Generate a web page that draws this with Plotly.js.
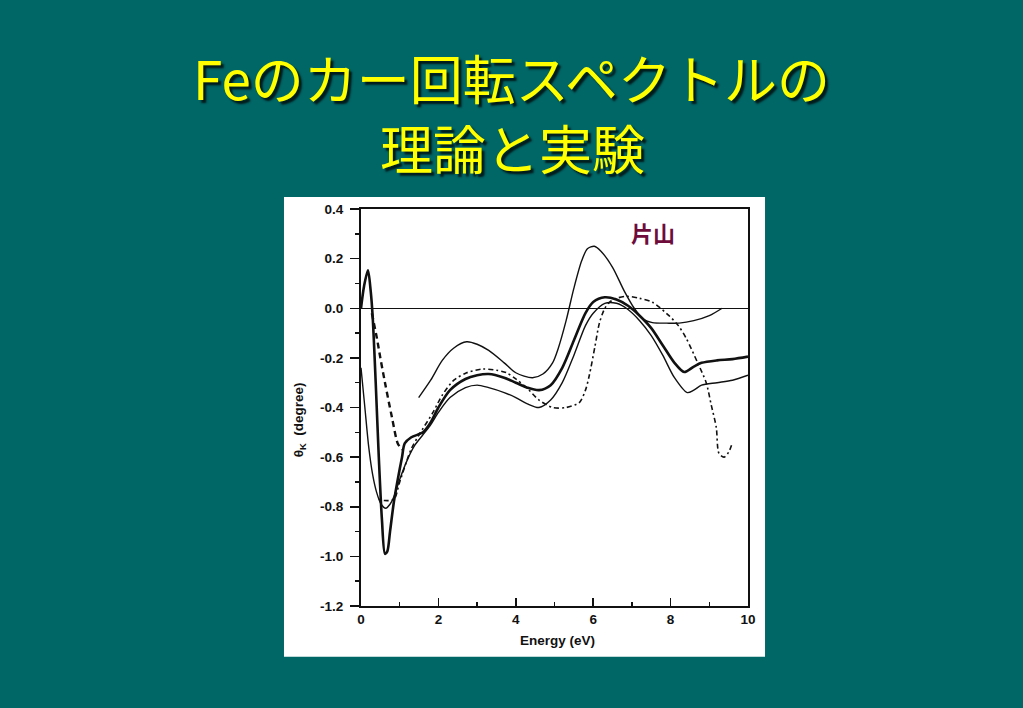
<!DOCTYPE html>
<html><head><meta charset="utf-8">
<script src="https://cdn.plot.ly/plotly-3.0.1.min.js"></script>
<style>html,body{margin:0;padding:0;background:#006666;}#chart{width:1023px;height:708px;}</style>
</head><body><div id="chart"></div>
<script>
// Thin solid curve (upper)
const energyA = [1.49,1.8,2.1,2.4,2.73,3.0,3.3,3.7,4.0,4.43,4.7,4.95,5.1,5.3,5.5,5.7,5.85,6.03,6.2,6.5,6.8,7.06,7.3,7.53,7.9,8.22,8.6,9.0,9.33];
const thetaA  = [-0.36,-0.29,-0.21,-0.16,-0.135,-0.145,-0.17,-0.22,-0.26,-0.28,-0.265,-0.22,-0.16,-0.05,0.08,0.19,0.24,0.25,0.23,0.165,0.07,0.0,-0.045,-0.058,-0.06,-0.06,-0.05,-0.03,0.0];
// Thick solid curve
const energyB = [0,0.08,0.18,0.25,0.3,0.38,0.46,0.54,0.62,0.68,0.75,0.85,0.95,1.06,1.13,1.3,1.6,1.8,2.0,2.3,2.7,3.0,3.3,3.7,4.0,4.3,4.6,4.9,5.2,5.5,5.8,6.0,6.3,6.6,6.9,7.2,7.5,7.8,8.1,8.35,8.6,8.8,9.2,9.6,10];
const thetaB  = [0,0.09,0.153,0.07,-0.03,-0.3,-0.6,-0.85,-0.99,-0.98,-0.9,-0.78,-0.69,-0.6,-0.545,-0.52,-0.5,-0.46,-0.4,-0.33,-0.285,-0.27,-0.265,-0.28,-0.3,-0.32,-0.33,-0.31,-0.24,-0.13,-0.02,0.025,0.044,0.035,0.01,-0.03,-0.08,-0.15,-0.22,-0.257,-0.235,-0.22,-0.21,-0.205,-0.195];
// Thin solid curve (lower)
const energyC = [0,0.1,0.2,0.3,0.4,0.52,0.64,0.75,0.85,1.0,1.2,1.4,1.6,1.8,2.0,2.3,2.7,3.0,3.3,3.7,4.0,4.3,4.6,4.9,5.2,5.5,5.8,6.0,6.3,6.6,6.9,7.2,7.5,7.8,8.1,8.43,8.6,8.8,9.2,9.6,10];
const thetaC  = [-0.24,-0.4,-0.56,-0.67,-0.74,-0.79,-0.806,-0.79,-0.76,-0.69,-0.61,-0.55,-0.51,-0.47,-0.42,-0.36,-0.32,-0.31,-0.32,-0.34,-0.36,-0.385,-0.4,-0.37,-0.3,-0.19,-0.07,-0.02,0.02,0.02,-0.005,-0.05,-0.11,-0.19,-0.28,-0.34,-0.33,-0.31,-0.3,-0.29,-0.27];
// Dashed curve
const energyD = [0.28,0.41,0.5,0.62,0.8,0.95,1.06];
const thetaD  = [-0.02,-0.12,-0.2,-0.3,-0.44,-0.545,-0.57];
// Dash-dot curve
const energyE = [0.46,0.6,0.85,1.0,1.29,1.5,1.86,2.1,2.4,2.73,3.14,3.5,3.76,4.0,4.28,4.6,4.95,5.3,5.64,5.8,5.9,6.05,6.16,6.3,6.42,6.6,6.86,7.2,7.53,7.96,8.2,8.4,8.7,8.92,9.05,9.18,9.25,9.38,9.5,9.59];
const thetaE  = [-0.77,-0.775,-0.77,-0.7,-0.57,-0.51,-0.42,-0.35,-0.29,-0.26,-0.245,-0.25,-0.26,-0.285,-0.32,-0.37,-0.4,-0.4,-0.38,-0.33,-0.27,-0.15,-0.06,0.0,0.024,0.04,0.048,0.04,0.024,-0.03,-0.07,-0.12,-0.22,-0.3,-0.39,-0.48,-0.585,-0.6,-0.58,-0.545];

const titleLine1 = 'Feのカー回転スペクトルの';
const titleLine2 = '理論と実験';
const authorLabel = '片山';
const xTitle = 'Energy (eV)';
const yTitle = 'θ<sub>K</sub>  (degree)';
const xTicks = [0,2,4,6,8,10];
const yTicks = [0.4,0.2,0.0,-0.2,-0.4,-0.6,-0.8,-1.0,-1.2];

const lineStyle = (w, dash) => ({color:'#111', width:w, dash:dash, shape:'spline', smoothing:0.8});
const traces = [
  {x:energyA, y:thetaA, mode:'lines', line:lineStyle(1.4,'solid')},
  {x:energyB, y:thetaB, mode:'lines', line:lineStyle(2.6,'solid')},
  {x:energyC, y:thetaC, mode:'lines', line:lineStyle(1.4,'solid')},
  {x:energyD, y:thetaD, mode:'lines', line:lineStyle(2.4,'6px,4px')},
  {x:energyE, y:thetaE, mode:'lines', line:lineStyle(1.6,'2px,3px,5px,3px')}
];

const tickFont = {family:'Liberation Sans, Arial, sans-serif', size:13.5, color:'#111', weight:'bold'};
const titleFont = {family:'Noto Sans CJK JP', size:53, color:'#ffff00', shadow:'3px 3px 2px #001a1a'};
const layout = {
  width:1023, height:708,
  paper_bgcolor:'#006666', plot_bgcolor:'#ffffff',
  showlegend:false,
  margin:{l:361, r:275, t:209, b:102},
  xaxis:{range:[0,10], tickvals:xTicks, ticktext:xTicks.map(String), ticks:'inside', ticklen:8, tickwidth:1.5, tickcolor:'#111',
    minor:{tickvals:[1,3,5,7,9], ticks:'inside', ticklen:4, tickwidth:1.5, tickcolor:'#111'},
    showline:true, linecolor:'#111', linewidth:2, mirror:true, showgrid:false, zeroline:false,
    tickfont:tickFont, ticklabelstandoff:0, fixedrange:true},
  yaxis:{range:[-1.2,0.4], tickvals:yTicks, ticktext:yTicks.map(v=>v.toFixed(1)), ticks:'outside', ticklen:9, tickwidth:1.5, tickcolor:'#111',
    minor:{tickvals:[0.3,0.1,-0.1,-0.3,-0.5,-0.7,-0.9,-1.1], ticks:'outside', ticklen:4, tickwidth:1.5, tickcolor:'#111'},
    showline:true, linecolor:'#111', linewidth:2, mirror:true, showgrid:false,
    zeroline:true, zerolinecolor:'#111', zerolinewidth:1.5,
    tickfont:tickFont, ticklabelstandoff:4, fixedrange:true},
  shapes:[
    {type:'rect', xref:'paper', yref:'paper', x0:-0.199, x1:1.044, y0:-0.128, y1:1.030, fillcolor:'#ffffff', line:{width:0}, layer:'below'}
  ],
  annotations:[
    {xref:'paper', yref:'paper', x:0.509, y:-0.088, text:xTitle, showarrow:false, font:tickFont, xanchor:'center', yanchor:'middle'},
    {xref:'paper', yref:'paper', x:-0.160, y:0.468, text:yTitle, showarrow:false, font:tickFont, textangle:-90, xanchor:'center', yanchor:'middle'},
    {xref:'paper', yref:'paper', x:0.754, y:0.942, text:authorLabel, showarrow:false, font:{family:'Noto Sans CJK JP', size:22, color:'#6e0c3c', weight:'bold'}, xanchor:'center', yanchor:'middle'},
    {xref:'paper', yref:'paper', x:(511-361)/387, y:(606-77)/397, text:titleLine1, showarrow:false, font:titleFont, xanchor:'center', yanchor:'middle'},
    {xref:'paper', yref:'paper', x:(512-361)/387, y:(606-147)/397, text:titleLine2, showarrow:false, font:titleFont, xanchor:'center', yanchor:'middle'}
  ]
};
Plotly.newPlot('chart', traces, layout, {staticPlot:true, displayModeBar:false});
</script></body></html>
